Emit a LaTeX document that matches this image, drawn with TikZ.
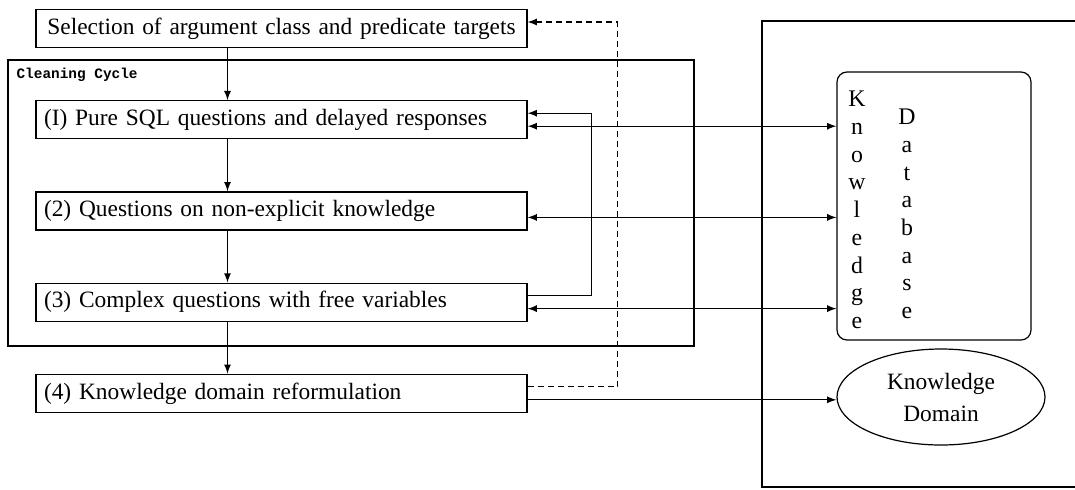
\documentclass[tikz,border=0pt]{standalone}
\usepackage{fontspec}
\setmainfont{Liberation Serif}
\newfontfamily\cyclefont{Liberation Mono}
\usepackage{tikz}
\usetikzlibrary{shapes, arrows, positioning, calc}

\begin{document}
\begin{tikzpicture}[x=0.5pt, y=-0.5pt, node distance=26pt, >=latex, line width=0.6pt,
                    font=\fontsize{11.7}{14}\selectfont]
    \tikzstyle{stage} = [rectangle, draw, text width=237.5pt, align=left,
                         inner xsep=4pt, inner ysep=2pt, minimum height=19pt]
    \useasboundingbox (0,0) rectangle (1075,489);

    % stages of the cleaning
    \node [stage, align=center, text width=243.5pt, inner xsep=1pt] (sel) at (281.5,28.5)
        {Selection of argument class and predicate targets};
    \node [stage, below=of sel] (b1) {(I) Pure SQL questions and delayed responses};
    \node [stage, below=of b1] (b2) {(2) Questions on non-explicit knowledge};
    \node [stage, below=of b2] (b3) {(3) Complex questions with free variables};
    \node [stage, below=of b3] (b4) {(4) Knowledge domain reformulation};

    % cleaning cycle frame
    \draw (8,60) rectangle (694,346);
    \node [anchor=west, inner sep=0pt, font=\cyclefont\bfseries\fontsize{7.2}{8}\selectfont] (cyc) at (16,75) {Cleaning Cycle};

    % knowledge side
    \draw (1075,21) -| (762,487) -- (1075,487);
    \node [rectangle, draw, rounded corners=5pt, minimum width=97pt, minimum height=134pt] (db) at (934,206) {};
    \node [align=center, inner sep=0pt, font=\fontsize{11.9}{13.85}\selectfont] (dbk) at (857,210)
        {K\\n\\o\\w\\l\\e\\d\\g\\e};
    \node [align=center, inner sep=0pt, font=\fontsize{11.9}{13.85}\selectfont] (dbd) at (907,214)
        {D\\a\\t\\a\\b\\a\\s\\e};
    \node [ellipse, draw, align=center, minimum width=104pt, minimum height=48pt, inner sep=0pt] (kd) at (941,397)
        {Knowledge\\[2pt]Domain};

    % flow
    \foreach \a/\b in {sel/b1, b1/b2, b2/b3, b3/b4}
        \draw[->] ([xshift=-27pt]\a.south) -- ([xshift=-27pt]\b.north);
    \foreach \n in {b1, b2, b3}
        \draw[<->] ([yshift=-3.25pt]\n.east) -- ([yshift=-3.25pt]\n.east -| db.west);
    \draw[->] ([yshift=3.25pt]b3.east) -- ++(32pt,0) |- ([yshift=3.25pt]b1.east);
    \draw[->] ([yshift=-3.25pt]b4.east) -- ([yshift=-3.25pt]b4.east -| kd.west);
    \draw[->, dash pattern=on 3pt off 2pt] ([yshift=3.25pt]b4.east) -- ++(45pt,0) |- ([yshift=3.25pt]sel.east);
\end{tikzpicture}
\end{document}
